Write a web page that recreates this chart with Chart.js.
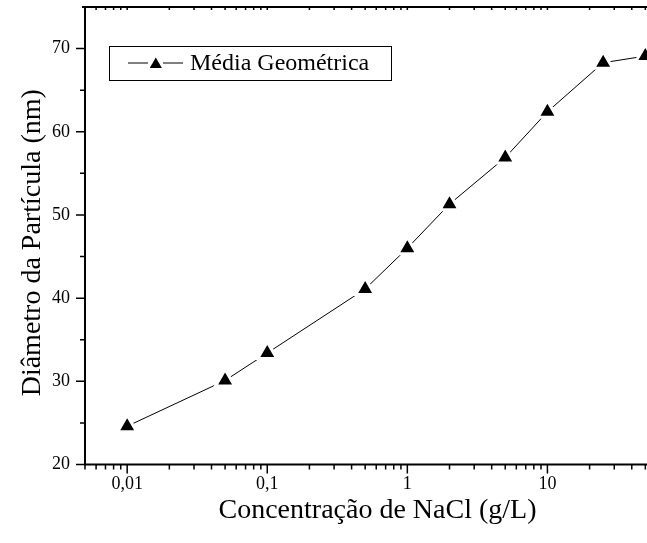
<!DOCTYPE html>
<html>
<head>
<meta charset="utf-8">
<script src="https://cdn.jsdelivr.net/npm/chart.js"></script>
<style>
    html, body { margin: 0; padding: 0; overflow: hidden; background: #fff; }
    #wrap { width: 647px; height: 543px; overflow: hidden; }
    canvas { display: block; }
</style>
</head>
<body>
<div id="wrap"><canvas id="chart" width="670" height="543"></canvas></div>
<script>
// Data
const concentrations = [0.01, 0.05, 0.1, 0.5, 1, 2, 5, 10, 25, 50];
const diameters = [24.6, 30.1, 33.4, 41.1, 46.0, 51.3, 56.9, 62.4, 68.3, 69.1];

const xMajorTicks = [0.01, 0.1, 1, 10];
const xTickLabels = ['0,01', '0,1', '1', '10'];
const yMajorTicks = [20, 30, 40, 50, 60, 70];

const seriesLabel = 'Média Geométrica';
const xTitle = 'Concentração de NaCl (g/L)';
// two trailing spaces nudge the rotated title a little lower, as in the original
const yTitle = 'Diâmetro da Partícula (nm)  ';

const FONT = '"Liberation Serif", "Times New Roman", serif';

/**
 * Minor tick values for the log axis (2..9 of each decade)
 */
function logMinorTicks(min, max) {
    const out = [];
    for (let e = -3; e <= 2; e++) {
        for (let m = 2; m <= 9; m++) {
            const v = m * Math.pow(10, e);
            if (v >= min - 1e-12 && v <= max + 1e-12) out.push(v);
        }
    }
    return out;
}

/**
 * Axis frame, tick marks and in-plot legend, Origin style
 */
const originFrame = {
    id: 'originFrame',
    afterDraw(chart) {
        const ctx = chart.ctx;
        const area = chart.chartArea;
        const xs = chart.scales.x;
        const ys = chart.scales.y;

        ctx.save();
        ctx.strokeStyle = '#000';

        // tick marks
        ctx.lineWidth = 1.5;
        ctx.beginPath();
        xMajorTicks.forEach(v => {
            const px = xs.getPixelForValue(v);
            ctx.moveTo(px, area.bottom); ctx.lineTo(px, area.bottom + 9);
            ctx.moveTo(px, area.top); ctx.lineTo(px, area.top + 3);
        });
        logMinorTicks(xs.min, xs.max).forEach(v => {
            const px = xs.getPixelForValue(v);
            ctx.moveTo(px, area.bottom); ctx.lineTo(px, area.bottom + 5);
            ctx.moveTo(px, area.top); ctx.lineTo(px, area.top + 3);
        });
        for (let v = ys.min; v <= ys.max - 1; v += 5) {
            const py = ys.getPixelForValue(v);
            const len = (v % 10 === 0) ? 9 : 5;
            ctx.moveTo(area.left, py); ctx.lineTo(area.left - len, py);
        }
        ctx.stroke();

        // axis lines
        ctx.lineWidth = 2;
        ctx.beginPath();
        ctx.moveTo(area.left, area.top - 1);
        ctx.lineTo(area.left, area.bottom + 1);
        ctx.moveTo(area.left - 1, area.bottom);
        ctx.lineTo(area.right, area.bottom);
        ctx.moveTo(area.left - 3, area.top);
        ctx.lineTo(area.right, area.top);
        ctx.stroke();

        // legend box
        const ds = chart.data.datasets[0];
        const box = { left: 109, top: 46, right: 391, bottom: 80 };
        const cy = (box.top + box.bottom) / 2;
        ctx.lineWidth = 1;
        ctx.fillStyle = '#fff';
        ctx.fillRect(box.left, box.top, box.right - box.left, box.bottom - box.top);
        ctx.strokeRect(box.left + 0.5, box.top + 0.5, box.right - box.left, box.bottom - box.top);
        ctx.beginPath();
        ctx.moveTo(128, cy); ctx.lineTo(148, cy);
        ctx.moveTo(163, cy); ctx.lineTo(183, cy);
        ctx.stroke();
        Chart.helpers.drawPoint(ctx, {
            pointStyle: 'triangle', radius: 7, borderWidth: 0
        }, 155.8, cy + 1.5);
        ctx.fillStyle = ds.pointBackgroundColor;
        ctx.fill();
        ctx.font = '24px ' + FONT;
        ctx.fillStyle = '#000';
        ctx.textBaseline = 'middle';
        ctx.textAlign = 'left';
        ctx.fillText(seriesLabel, 190, cy + 1);

        ctx.restore();
    }
};

const ctx = document.getElementById('chart').getContext('2d');

new Chart(ctx, {
    type: 'line',
    data: {
        datasets: [{
            label: seriesLabel,
            data: concentrations.map((c, i) => ({ x: c, y: diameters[i] })),
            borderColor: '#000',
            borderWidth: 1,
            pointStyle: 'triangle',
            // white outline leaves the small gap between line and symbol
            pointRadius: 11,
            pointBackgroundColor: '#000',
            pointBorderColor: '#fff',
            pointBorderWidth: 3,
            tension: 0,
            fill: false
        }]
    },
    options: {
        responsive: false,
        animation: false,
        layout: {
            autoPadding: false,
            padding: { top: 7, left: 0, right: 0, bottom: 0 }
        },
        plugins: {
            legend: { display: false },
            tooltip: { enabled: false }
        },
        scales: {
            x: {
                type: 'logarithmic',
                min: 0.005,
                max: 75,
                grid: { display: false, drawTicks: false },
                border: { display: false },
                afterBuildTicks: scale => {
                    scale.ticks = xMajorTicks.map(v => ({ value: v }));
                },
                afterFit: scale => {
                    scale.height = 78.5;
                    scale.paddingLeft = 0;
                    scale.paddingRight = 0;
                },
                ticks: {
                    autoSkip: false,
                    maxRotation: 0,
                    padding: 9,
                    color: '#000',
                    font: { family: FONT, size: 18 },
                    callback: value => {
                        const i = xMajorTicks.findIndex(v => Math.abs(v - value) < 1e-9);
                        return i >= 0 ? xTickLabels[i] : '';
                    }
                },
                title: {
                    display: true,
                    text: xTitle,
                    color: '#000',
                    font: { family: FONT, size: 28 },
                    padding: { top: 0, bottom: 15.7 }
                }
            },
            y: {
                min: 20,
                max: 75,
                grid: { display: false, drawTicks: false },
                border: { display: false },
                afterBuildTicks: scale => {
                    scale.ticks = yMajorTicks.map(v => ({ value: v }));
                },
                afterFit: scale => {
                    scale.width = 85;
                    scale.paddingTop = 0;
                    scale.paddingBottom = 0;
                },
                ticks: {
                    padding: 15,
                    color: '#000',
                    font: { family: FONT, size: 18 }
                },
                title: {
                    display: true,
                    text: yTitle,
                    color: '#000',
                    font: { family: FONT, size: 28 },
                    padding: { top: 15.6, bottom: 0 }
                }
            }
        }
    },
    plugins: [originFrame]
});
</script>
</body>
</html>
